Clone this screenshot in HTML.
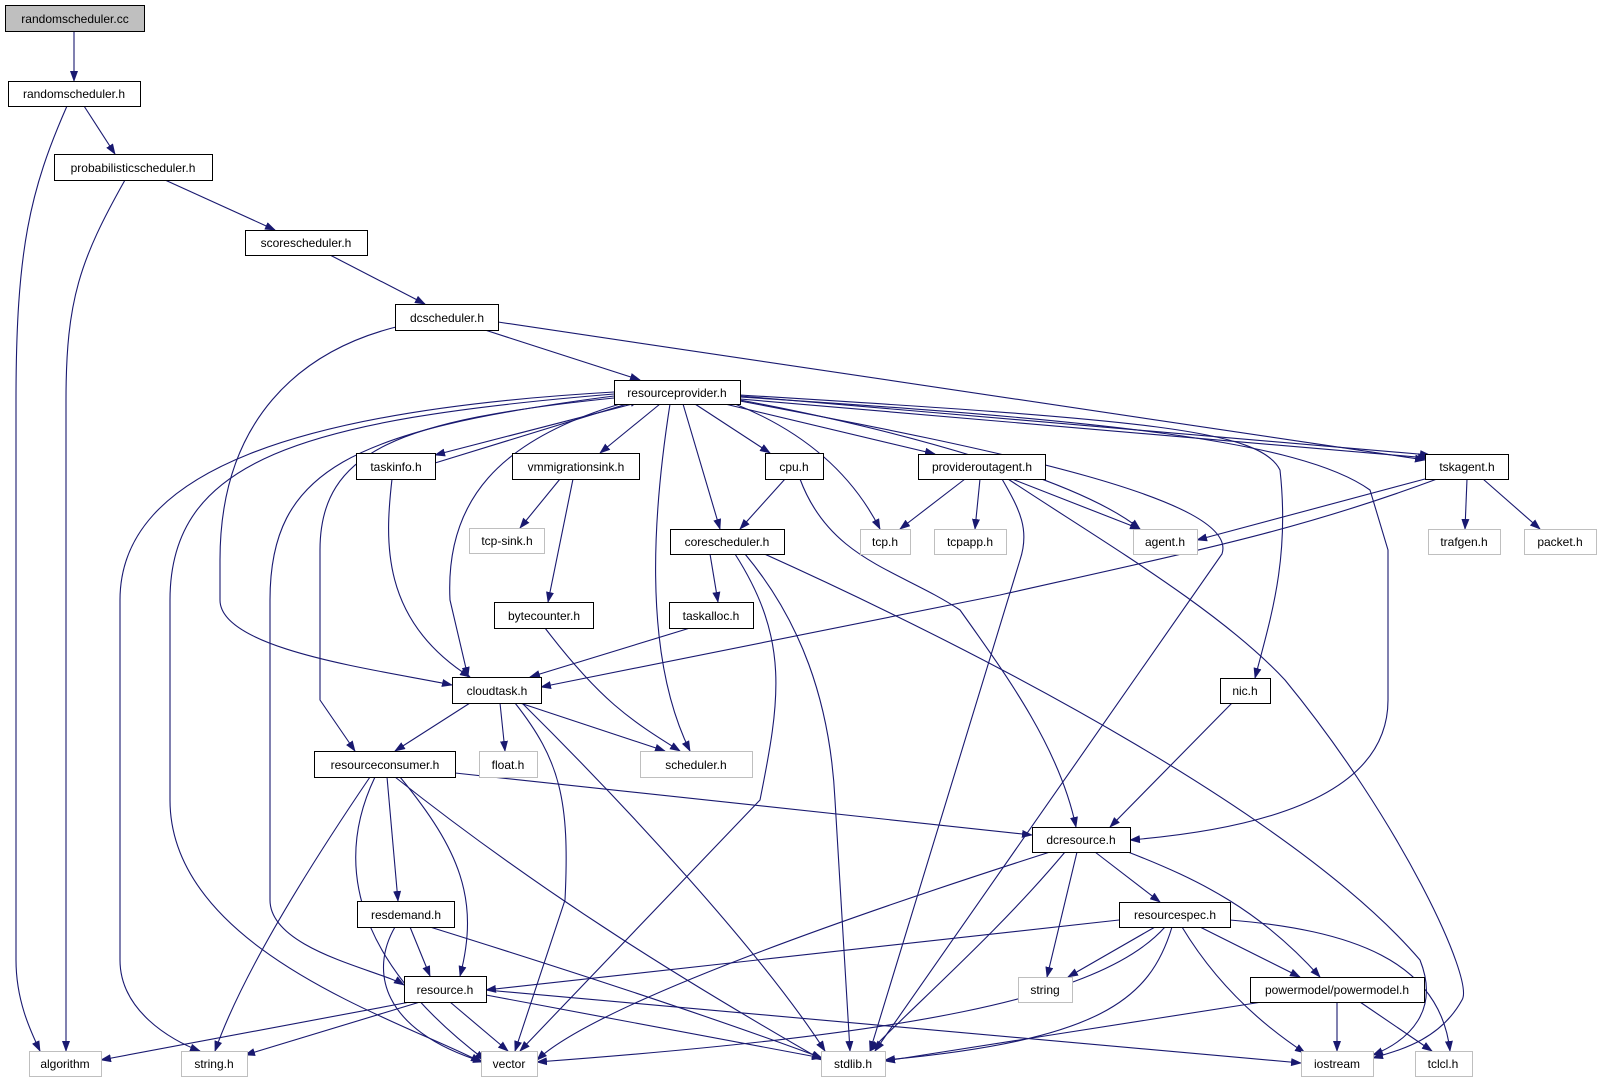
<!DOCTYPE html>
<html><head><meta charset="utf-8"><style>
html,body{margin:0;padding:0;background:#fff;}
svg{display:block;}
text{font-family:"Liberation Sans",sans-serif;font-size:12px;fill:#000;}
</style></head><body>
<svg width="1601" height="1083" viewBox="0 0 1601 1083" xmlns="http://www.w3.org/2000/svg">
<defs>
<marker id="a" markerWidth="11" markerHeight="8" refX="10" refY="4" orient="auto" markerUnits="userSpaceOnUse">
<path d="M0,0 L11,4 L0,8 z" fill="#191970"/></marker>
</defs>
<g fill="none" stroke="#191970" stroke-width="1.1" marker-end="url(#a)">
<path d="M74,31 L74,81"/>
<path d="M67,106 C30,190 16,250 16,400 L16,960 C16,1000 30,1030 40,1051"/>
<path d="M84,106 L115,154"/>
<path d="M125,180 C80,260 66,300 66,400 L66,1051"/>
<path d="M165,180 L275,230"/>
<path d="M330,255 L425,304"/>
<path d="M400,326 C300,350 220,420 220,560 L220,600 C220,650 380,670 452,685"/>
<path d="M485,330 L640,380"/>
<path d="M498,322 L1425,460"/>
<path d="M640,402 L435,455"/>
<path d="M435,463 L640,400"/>
<path d="M660,404 L600,453"/>
<path d="M695,404 L770,453"/>
<path d="M725,404 L935,454"/>
<path d="M735,404 C800,430 850,470 880,529"/>
<path d="M740,400 C900,430 1080,480 1140,529"/>
<path d="M740,396 L1430,455"/>
<path d="M740,399 L1428,458"/>
<path d="M683,404 L720,529"/>
<path d="M670,404 C655,500 640,650 690,751"/>
<path d="M620,404 C500,440 445,500 450,600 L468,677"/>
<path d="M614,398 C400,420 320,450 320,550 L320,700 L355,751"/>
<path d="M614,396 C350,430 270,470 270,600 L270,900 C270,950 380,970 404,985"/>
<path d="M614,394 C300,420 170,460 170,600 L170,800 C170,950 400,1020 481,1062"/>
<path d="M614,392 C300,410 120,470 120,600 L120,960 C120,1010 170,1040 200,1051"/>
<path d="M740,401 C1000,450 1240,500 1222,554 L875,1051"/>
<path d="M740,395 C1150,420 1260,430 1280,470 C1290,560 1270,620 1255,678"/>
<path d="M740,397 C1100,420 1300,440 1370,490 L1388,550 L1388,700 C1388,800 1250,830 1130,840"/>
<path d="M392,479 C385,540 380,620 470,677"/>
<path d="M560,479 L520,528"/>
<path d="M573,479 L548,602"/>
<path d="M785,479 L740,529"/>
<path d="M800,479 C830,560 900,570 960,610 C1010,680 1060,750 1076,827"/>
<path d="M965,479 L900,529"/>
<path d="M980,479 L975,529"/>
<path d="M1012,479 L1140,529"/>
<path d="M1002,479 C1020,510 1030,530 1020,560 L870,1051"/>
<path d="M1008,479 C1100,540 1220,610 1285,680 C1400,820 1475,980 1462,1000 C1440,1040 1400,1050 1373,1058"/>
<path d="M1425,479 L1197,540"/>
<path d="M1437,479 C1300,530 1200,550 1000,595 L541,687"/>
<path d="M1467,479 L1465,529"/>
<path d="M1483,479 L1540,529"/>
<path d="M710,554 L718,602"/>
<path d="M735,554 C790,640 780,700 760,800 L520,1051"/>
<path d="M745,554 C800,620 830,700 835,800 L850,1051"/>
<path d="M760,552 C1000,660 1300,820 1420,960 C1440,1010 1410,1040 1373,1055"/>
<path d="M545,628 C600,700 630,720 680,751"/>
<path d="M690,628 L530,677"/>
<path d="M470,703 L395,751"/>
<path d="M500,703 L505,751"/>
<path d="M520,703 L665,751"/>
<path d="M515,703 C560,760 570,800 565,900 L515,1051"/>
<path d="M522,703 C620,800 760,950 825,1051"/>
<path d="M455,773 L1032,835"/>
<path d="M387,777 L398,901"/>
<path d="M400,777 C460,850 480,900 460,976"/>
<path d="M375,777 C340,850 340,950 485,1060"/>
<path d="M370,777 C300,880 240,980 215,1051"/>
<path d="M395,777 C550,900 700,990 822,1060"/>
<path d="M410,927 L430,976"/>
<path d="M395,927 C370,970 380,1030 483,1062"/>
<path d="M430,927 C600,980 720,1020 822,1058"/>
<path d="M410,1002 L101,1060"/>
<path d="M420,1002 L245,1055"/>
<path d="M450,1002 L508,1051"/>
<path d="M486,995 L822,1058"/>
<path d="M486,990 L1301,1063"/>
<path d="M1050,852 C900,900 600,1000 537,1060"/>
<path d="M1065,852 C1000,930 920,1000 870,1051"/>
<path d="M1077,852 L1047,977"/>
<path d="M1095,852 L1160,902"/>
<path d="M1128,852 C1200,880 1260,910 1320,977"/>
<path d="M1232,703 L1110,827"/>
<path d="M1119,920 L486,990"/>
<path d="M1155,927 L1068,977"/>
<path d="M1165,927 C1100,1000 900,1035 537,1062"/>
<path d="M1172,927 C1150,1000 1100,1040 885,1060"/>
<path d="M1200,927 L1300,977"/>
<path d="M1182,927 C1220,990 1270,1030 1305,1053"/>
<path d="M1230,920 C1350,930 1440,960 1450,1051"/>
<path d="M1262,1002 L885,1061"/>
<path d="M1337,1002 L1337,1051"/>
<path d="M1360,1002 L1432,1051"/>
</g>
<g stroke-width="1">
<rect x="5.5" y="5.5" width="139" height="26" fill="#bfbfbf" stroke="#000"/>
<g fill="#fff" stroke="#000">
<rect x="8.5" y="81.5" width="132" height="25"/>
<rect x="54.5" y="154.5" width="158" height="26"/>
<rect x="245.5" y="230.5" width="122" height="25"/>
<rect x="395.5" y="304.5" width="103" height="26"/>
<rect x="614.5" y="380.5" width="126" height="24"/>
<rect x="356.5" y="453.5" width="79" height="26"/>
<rect x="512.5" y="453.5" width="127" height="26"/>
<rect x="765.5" y="453.5" width="58" height="26"/>
<rect x="918.5" y="454.5" width="127" height="25"/>
<rect x="1425.5" y="454.5" width="83" height="25"/>
<rect x="670.5" y="529.5" width="114" height="25"/>
<rect x="494.5" y="602.5" width="99" height="26"/>
<rect x="669.5" y="602.5" width="84" height="26"/>
<rect x="452.5" y="677.5" width="89" height="26"/>
<rect x="1220.5" y="678.5" width="50" height="25"/>
<rect x="314.5" y="751.5" width="141" height="26"/>
<rect x="1032.5" y="827.5" width="98" height="25"/>
<rect x="357.5" y="901.5" width="97" height="26"/>
<rect x="1119.5" y="902.5" width="111" height="25"/>
<rect x="404.5" y="976.5" width="82" height="26"/>
<rect x="1250.5" y="977.5" width="174" height="25"/>
</g>
<g fill="#fff" stroke="#bfbfbf">
<rect x="860.5" y="529.5" width="50" height="25"/>
<rect x="934.5" y="529.5" width="72" height="25"/>
<rect x="1133.5" y="529.5" width="64" height="25"/>
<rect x="1428.5" y="529.5" width="72" height="25"/>
<rect x="1524.5" y="529.5" width="72" height="25"/>
<rect x="469.5" y="528.5" width="75" height="25"/>
<rect x="479.5" y="751.5" width="58" height="26"/>
<rect x="640.5" y="751.5" width="112" height="26"/>
<rect x="1018.5" y="977.5" width="54" height="25"/>
<rect x="29.5" y="1051.5" width="72" height="25"/>
<rect x="181.5" y="1051.5" width="66" height="25"/>
<rect x="481.5" y="1051.5" width="56" height="25"/>
<rect x="821.5" y="1051.5" width="64" height="25"/>
<rect x="1301.5" y="1051.5" width="72" height="25"/>
<rect x="1415.5" y="1051.5" width="57" height="25"/>
</g>
</g>
<g text-anchor="middle">
<text x="75" y="23">randomscheduler.cc</text>
<text x="74" y="98">randomscheduler.h</text>
<text x="133" y="172">probabilisticscheduler.h</text>
<text x="306" y="247">scorescheduler.h</text>
<text x="447" y="322">dcscheduler.h</text>
<text x="677" y="397">resourceprovider.h</text>
<text x="396" y="471">taskinfo.h</text>
<text x="576" y="471">vmmigrationsink.h</text>
<text x="794" y="471">cpu.h</text>
<text x="982" y="471">provideroutagent.h</text>
<text x="1467" y="471">tskagent.h</text>
<text x="727" y="546">corescheduler.h</text>
<text x="544" y="620">bytecounter.h</text>
<text x="711" y="620">taskalloc.h</text>
<text x="497" y="695">cloudtask.h</text>
<text x="1245" y="695">nic.h</text>
<text x="385" y="769">resourceconsumer.h</text>
<text x="1081" y="844">dcresource.h</text>
<text x="406" y="919">resdemand.h</text>
<text x="1175" y="919">resourcespec.h</text>
<text x="445" y="994">resource.h</text>
<text x="1337" y="994">powermodel/powermodel.h</text>
<text x="885" y="546">tcp.h</text>
<text x="970" y="546">tcpapp.h</text>
<text x="1165" y="546">agent.h</text>
<text x="1464" y="546">trafgen.h</text>
<text x="1560" y="546">packet.h</text>
<text x="507" y="545">tcp-sink.h</text>
<text x="508" y="769">float.h</text>
<text x="696" y="769">scheduler.h</text>
<text x="1045" y="994">string</text>
<text x="65" y="1068">algorithm</text>
<text x="214" y="1068">string.h</text>
<text x="509" y="1068">vector</text>
<text x="853" y="1068">stdlib.h</text>
<text x="1337" y="1068">iostream</text>
<text x="1443" y="1068">tclcl.h</text>
</g>
</svg>
</body></html>
